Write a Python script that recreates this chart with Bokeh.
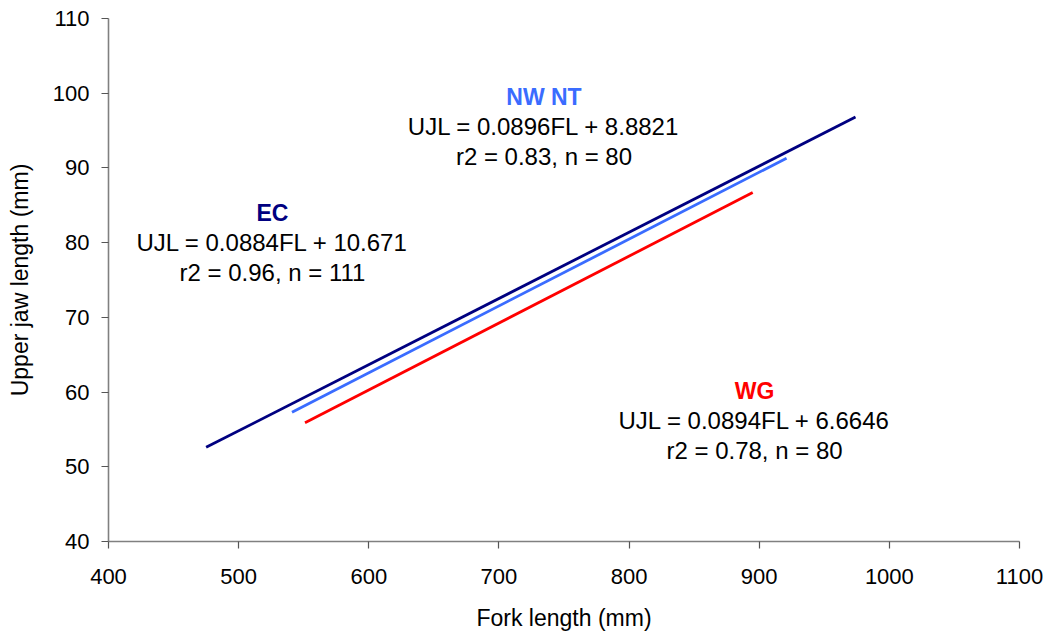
from bokeh.plotting import figure
from bokeh.models import Range1d, FixedTicker
from bokeh.core.properties import value
from bokeh.embed import file_html
from bokeh.resources import INLINE

# Regression line end points
series = ["EC", "NW NT", "WG"]
fl_start = [475, 541, 551]
fl_end = [974, 921, 895]
ujl_start = [52.6, 57.3, 55.9]
ujl_end = [96.8, 91.3, 86.7]
colors = ["#000080", "#3A6CFF", "#FF0000"]

# Annotation texts
titles = ["EC", "NW NT", "WG"]
equations = ["UJL = 0.0884FL + 10.671", "UJL = 0.0896FL + 8.8821", "UJL = 0.0894FL + 6.6646"]
stats = ["r2 = 0.96, n = 111", "r2 = 0.83, n = 80", "r2 = 0.78, n = 80"]
label_x = [526, 734.6, 896.4]
label_y = [84.0, 99.5, 60.2]

x_ticks = [400, 500, 600, 700, 800, 900, 1000, 1100]
y_ticks = [40, 50, 60, 70, 80, 90, 100, 110]

FONT = "Liberation Sans"

p = figure(width=1051, height=635, output_backend="svg", toolbar_location=None,
           x_range=Range1d(400, 1100), y_range=Range1d(40, 110),
           min_border_left=108, min_border_right=32, min_border_top=18, min_border_bottom=94)
p.outline_line_color = None
p.grid.visible = False

for i in range(3):
    p.line([fl_start[i], fl_end[i]], [ujl_start[i], ujl_end[i]], line_color=colors[i], line_width=2.8)

step = 4.0
for i in range(3):
    p.text([label_x[i]], [label_y[i]], text=[titles[i]], text_color=colors[i],
           text_font=value(FONT), text_font_size="23px", text_font_style="bold",
           text_align="center", text_baseline="middle")
    p.text([label_x[i]], [label_y[i] - step], text=[equations[i]], text_color="black",
           text_font=value(FONT), text_font_size="24px",
           text_align="center", text_baseline="middle")
    p.text([label_x[i]], [label_y[i] - 2 * step], text=[stats[i]], text_color="black",
           text_font=value(FONT), text_font_size="24px",
           text_align="center", text_baseline="middle")

p.xaxis.ticker = FixedTicker(ticks=x_ticks)
p.yaxis.ticker = FixedTicker(ticks=y_ticks)
for ax in (p.xaxis, p.yaxis):
    ax.axis_line_color = "#808080"
    ax.axis_line_width = 1.6
    ax.major_tick_line_color = "#555555"
    ax.major_tick_line_width = 1.2
    ax.major_tick_in = 0
    ax.major_tick_out = 7
    ax.minor_tick_line_color = None
    ax.major_label_text_font = FONT
    ax.major_label_text_font_size = "22px"
    ax.major_label_text_color = "black"
    ax.axis_label_text_font = FONT
    ax.axis_label_text_font_size = "23px"
    ax.axis_label_text_font_style = "normal"
    ax.axis_label_text_color = "black"
p.xaxis.axis_label = "Fork length (mm)"
p.yaxis.axis_label = "Upper jaw length (mm)"
p.xaxis.major_label_standoff = 20
p.yaxis.major_label_standoff = 12
p.xaxis.axis_label_standoff = 18
p.yaxis.axis_label_standoff = 17

open("out.html", "w").write(file_html(p, INLINE))
